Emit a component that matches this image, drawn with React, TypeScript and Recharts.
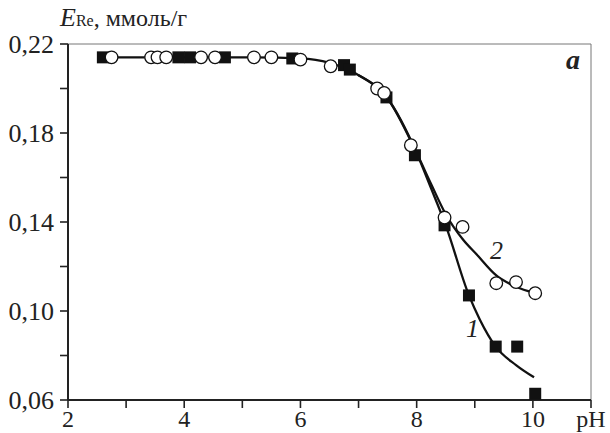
import React from 'react';
import { ComposedChart, Line, Scatter, XAxis, YAxis, ReferenceLine } from 'recharts';

const FONT = '"Liberation Serif", "Times New Roman", Times, serif';

// Series 1: filled squares
const squareX = [2.6, 3.9, 4.1, 4.7, 5.86, 6.75, 6.85, 7.48, 7.97, 8.48, 8.9, 9.36, 9.73, 10.04];
const squareY = [0.214, 0.214, 0.214, 0.214, 0.2135, 0.2105, 0.2085, 0.196, 0.17, 0.1385, 0.107, 0.084, 0.084, 0.0628];

// Series 2: open circles
const circleX = [2.75, 3.43, 3.54, 3.69, 4.29, 4.53, 5.2, 5.5, 6.0, 6.52, 7.32, 7.44, 7.9, 8.48, 8.79, 9.37, 9.71, 10.04];
const circleY = [0.214, 0.214, 0.214, 0.214, 0.214, 0.214, 0.214, 0.214, 0.213, 0.21, 0.2, 0.198, 0.1745, 0.142, 0.1378, 0.1125, 0.113, 0.108];

// Fitted curve 1
const curve1X = [2.6, 5.0, 6.0, 6.5, 7.0, 7.5, 8.0, 8.25, 8.5, 8.9, 9.09, 9.36, 9.71, 10.02];
const curve1Y = [0.214, 0.214, 0.2135, 0.2115, 0.206, 0.1955, 0.171, 0.155, 0.1385, 0.107, 0.096, 0.084, 0.0757, 0.0702];

// Fitted curve 2
const curve2X = [7.0, 7.5, 8.0, 8.25, 8.5, 8.8, 9.03, 9.37, 9.7, 10.04];
const curve2Y = [0.206, 0.1955, 0.171, 0.157, 0.1435, 0.132, 0.1255, 0.116, 0.111, 0.108];

const xTicks = [2, 3, 4, 5, 6, 7, 8, 9, 10, 11];
const yTicks = [0.06, 0.08, 0.1, 0.12, 0.14, 0.16, 0.18, 0.2, 0.22];

const toPts = (xs: number[], ys: number[]) => xs.map((x, i) => ({ x, y: ys[i] }));
const squares = toPts(squareX, squareY);
const circles = toPts(circleX, circleY);
const curve1 = toPts(curve1X, curve1Y);
const curve2 = toPts(curve2X, curve2Y);

const SquareShape = (p: any) => (
  <rect x={p.cx - 6} y={p.cy - 6} width={12} height={12} fill="#111" />
);
const CircleShape = (p: any) => (
  <circle cx={p.cx} cy={p.cy} r={6.3} fill="#fff" stroke="#111" strokeWidth={1.3} />
);

const XTick = (p: any) => {
  const v = p.payload.value;
  let t = '';
  if (v === 11) t = 'pH';
  else if (v % 2 === 0) t = String(v);
  if (!t) return null;
  return (
    <text x={p.x + (v === 11 ? 0 : 0)} y={p.y} dy="0.71em" textAnchor="middle" fontSize={24} fontFamily={FONT} fill="#222">
      {t}
    </text>
  );
};

const yFmt = (v: number) => {
  const k = Math.round(v * 100);
  return k % 4 === 2 ? v.toFixed(2).replace('.', ',') : '';
};

export default function App() {
  return (
    <div style={{ position: 'absolute', left: 0, top: 0, width: 610, height: 433, background: '#fff', overflow: 'hidden' }}>
      <ComposedChart width={610} height={433} margin={{ top: 44, right: 19, bottom: 0, left: 0 }}>
        <XAxis
          dataKey="x"
          type="number"
          domain={[2, 11]}
          ticks={xTicks}
          allowDataOverflow
          height={33}
          tickSize={8}
          tickMargin={2}
          tick={<XTick />}
          axisLine={{ stroke: '#222', strokeWidth: 2 }}
          tickLine={{ stroke: '#222', strokeWidth: 1.6 }}
        />
        <YAxis
          dataKey="y"
          type="number"
          domain={[0.06, 0.22]}
          ticks={yTicks}
          allowDataOverflow
          width={68}
          tickSize={8}
          tickMargin={6}
          tickFormatter={yFmt}
          tick={{ fontSize: 26, fontFamily: FONT, fill: '#222' }}
          axisLine={{ stroke: '#222', strokeWidth: 2 }}
          tickLine={{ stroke: '#222', strokeWidth: 1.6 }}
        />
        <ReferenceLine y={0.22} stroke="#777" strokeWidth={1} />
        <ReferenceLine x={11} stroke="#777" strokeWidth={1} />
        <Line data={curve2} dataKey="y" type="monotone" stroke="#111" strokeWidth={2.3} dot={false} isAnimationActive={false} />
        <Line data={curve1} dataKey="y" type="monotone" stroke="#111" strokeWidth={2.3} dot={false} isAnimationActive={false} />
        <Scatter data={squares} dataKey="y" shape={SquareShape} isAnimationActive={false} />
        <Scatter data={circles} dataKey="y" shape={CircleShape} isAnimationActive={false} />
      </ComposedChart>
      <div style={{ position: 'absolute', left: 60, top: 3, fontFamily: FONT, fontSize: 24, color: '#222', whiteSpace: 'nowrap' }}>
        <i style={{ fontSize: 26 }}>E</i>
        <span style={{ fontSize: 16 }}>Re</span>, ммоль/г
      </div>
      <div style={{ position: 'absolute', left: 566, top: 44, fontFamily: FONT, fontSize: 28, fontWeight: 'bold', fontStyle: 'italic', color: '#222' }}>
        a
      </div>
      <div style={{ position: 'absolute', left: 490, top: 236, fontFamily: FONT, fontSize: 26, fontStyle: 'italic', color: '#222' }}>
        2
      </div>
      <div style={{ position: 'absolute', left: 466, top: 314, fontFamily: FONT, fontSize: 26, fontStyle: 'italic', color: '#222' }}>
        1
      </div>
    </div>
  );
}
